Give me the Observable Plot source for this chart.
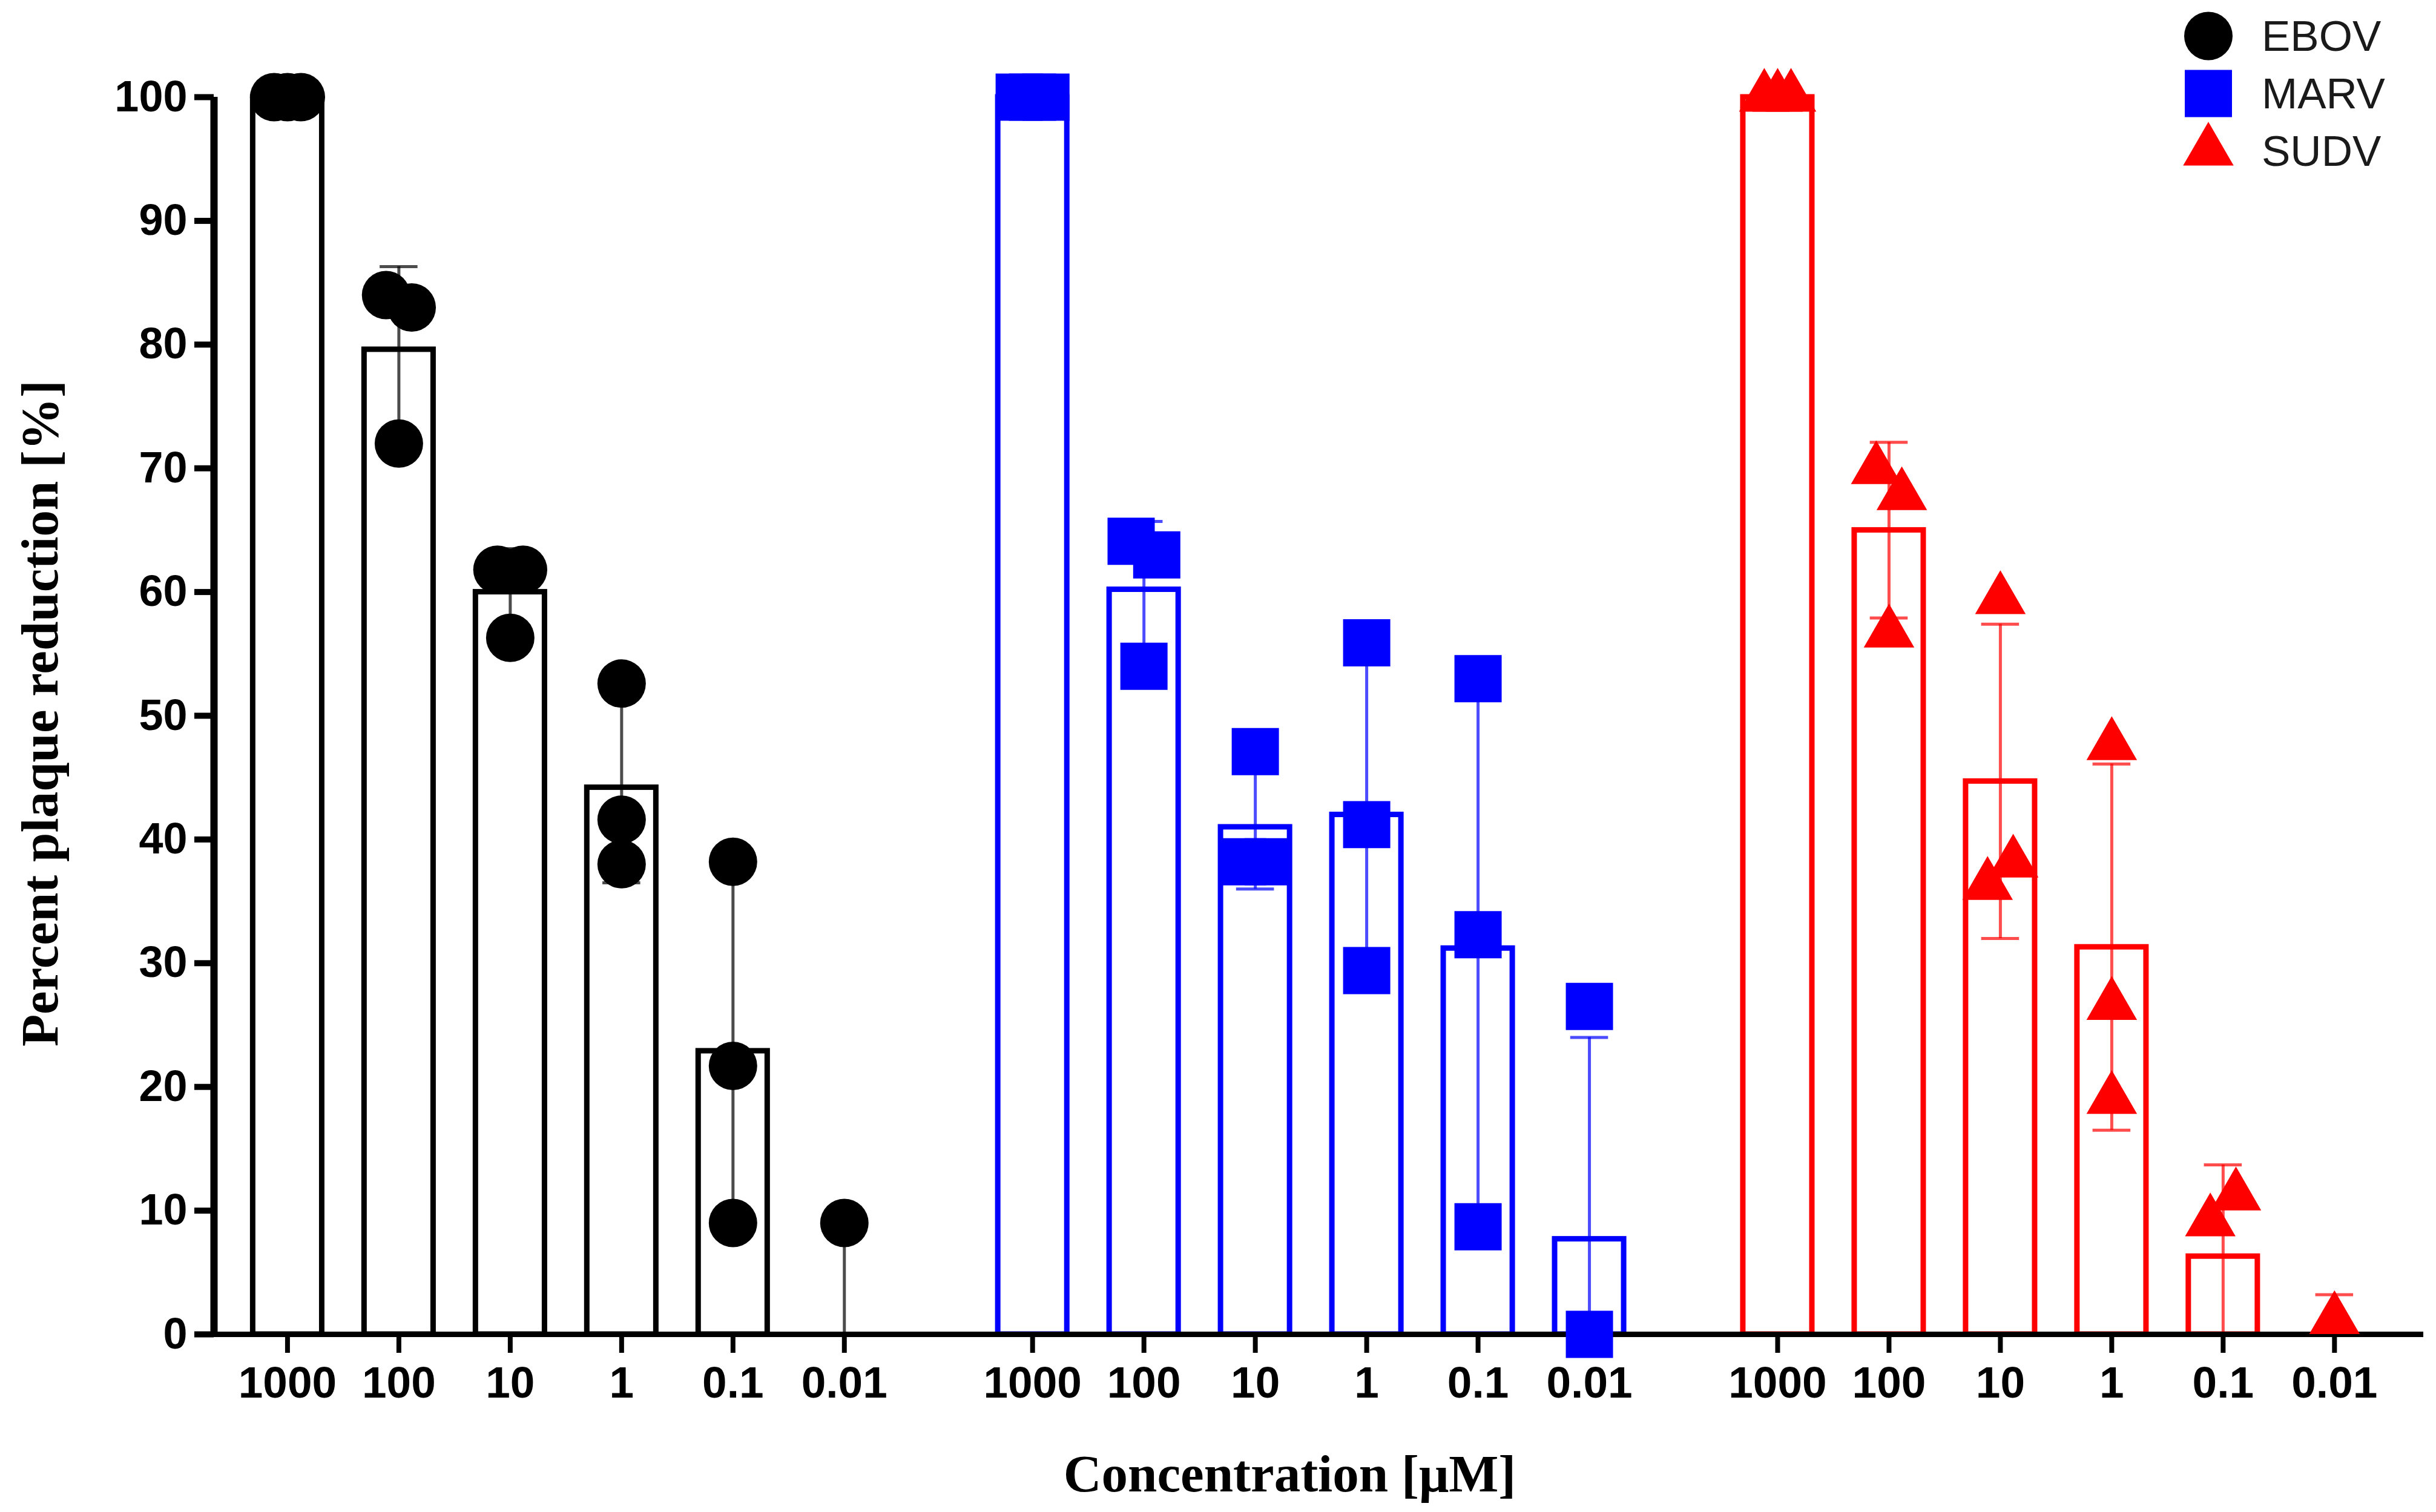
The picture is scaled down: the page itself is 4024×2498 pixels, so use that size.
<!DOCTYPE html>
<html>
<head>
<meta charset="utf-8">
<script src="https://cdn.jsdelivr.net/npm/d3@7"></script>
<script src="https://cdn.jsdelivr.net/npm/@observablehq/plot@0.6"></script>
<style>
  body { margin: 0; background: #fff; }
  #chart { position: relative; width: 4024px; height: 2498px; }
  #legend {
    position: absolute; left: 3600px; top: 12px;
    font-family: "Liberation Sans", Arial, sans-serif; font-size: 71px; color: #1a1a1a;
  }
  #legend .item { display: flex; align-items: center; height: 95px; }
  #legend svg { width: 96px; height: 95px; margin-right: 40px; overflow: visible; }
</style>
</head>
<body>
<div id="chart"></div>
<script>
const viruses = ["EBOV", "MARV", "SUDV"];
const colors = ["#000000", "#0000ff", "#ff0000"];
const symbols = ["circle", "square", "triangle"];
const concentrations = ["1000", "100", "10", "1", "0.1", "0.01"];

// bar heights (mean) and SD, one entry per concentration
const ebovMean = [100, 79.6, 60.0, 44.2, 22.9, 0];
const ebovSD   = [0, 6.7, 3.5, 7.7, 14.6, 8.8];
const marvMean = [100, 60.2, 41.0, 42.0, 31.2, 7.7];
const marvSD   = [0, 5.5, 5.0, 13.3, 22.2, 16.3];
const sudvMean = [100, 65.0, 44.7, 31.3, 6.3, 0];
const sudvSD   = [0, 7.1, 12.7, 14.8, 7.4, 3.2];

// replicate points that are visible in the figure
const ebovPoints = [[100, 100, 100], [84, 83, 72], [61.8, 61.8, 56.3], [52.6, 41.6, 38.0], [38.2, 21.7, 9.0], [9.0]];
const marvPoints = [[100, 100, 100], [64.1, 63.0, 54.0], [47.1, 38.2, 38.2], [55.9, 41.2, 29.4], [53.0, 32.3, 8.7], [26.5, 0]];
const sudvPoints = [[100, 100, 100], [69.9, 67.8, 56.7], [59.4, 36.3, 38.1], [47.6, 26.6, 19.0], [9.1, 11.2], [1.2]];

const xTitle = "Concentration [μM]";
const yTitle = "Percent plaque reduction [%]";

const GROUP_STEP = 6.69;   // slot distance between the first bars of two viruses
const BAR_HALF = 0.31;
const CAP_HALF = 0.17;
const markerR = [40, 44, 31];

const groups = [
  {mean: ebovMean, sd: ebovSD, points: ebovPoints},
  {mean: marvMean, sd: marvSD, points: marvPoints},
  {mean: sudvMean, sd: sudvSD, points: sudvPoints}
];

// spread overlapping replicates sideways, like the scatter in the original
function spread(values) {
  const clusters = [];
  values.forEach((v, j) => {
    const c = clusters.find(c => c.some(k => Math.abs(values[k] - v) < 3.5));
    if (c) c.push(j); else clusters.push([j]);
  });
  const off = values.map(() => 0);
  for (const c of clusters) {
    const step = c.length === 2 ? 0.23 : 0.12;
    c.forEach((k, n) => off[k] = (n - (c.length - 1) / 2) * step);
  }
  return off;
}

const bars = [], caps = [], dots = [];
groups.forEach((grp, g) => {
  concentrations.forEach((conc, i) => {
    const x = g * GROUP_STEP + i;
    const virus = viruses[g];
    const mean = grp.mean[i], sd = grp.sd[i];
    bars.push({virus, conc, x, mean, sd});
    if (sd > 0) {
      caps.push({virus, x, y: mean + sd});
      if (mean - sd > 0) caps.push({virus, x, y: mean - sd});
    }
    const vals = grp.points[i];
    const off = spread(vals);
    vals.forEach((v, j) => dots.push({virus, x: x + off[j], y: v}));
  });
});

const ticksX = bars.map(d => d.x);
const labelAt = new Map(bars.map(d => [d.x, d.conc]));
const xDomain = [-0.66, 2 * GROUP_STEP + concentrations.length - 1 + 0.8];

const chart = Plot.plot({
  width: 4024,
  height: 2498,
  marginLeft: 353,
  marginRight: 21,
  marginTop: 160,
  marginBottom: 294,
  style: {fontFamily: "Liberation Sans, Arial, sans-serif", background: "white", color: "black"},
  x: {type: "linear", domain: xDomain},
  y: {domain: [0, 100]},
  color: {domain: viruses, range: colors},
  symbol: {domain: viruses, range: symbols},
  marks: [
    Plot.rectY(bars.filter(d => d.mean > 0), {
      x1: d => d.x - BAR_HALF, x2: d => d.x + BAR_HALF, y1: 0, y2: "mean",
      fill: "white", stroke: "virus", strokeWidth: 9
    }),
    Plot.ruleX(bars.filter(d => d.sd > 0), {
      x: "x", y1: d => Math.max(0, d.mean - d.sd), y2: d => d.mean + d.sd,
      stroke: "virus", strokeWidth: 5, strokeOpacity: 0.7
    }),
    Plot.ruleY(caps, {
      y: "y", x1: d => d.x - CAP_HALF, x2: d => d.x + CAP_HALF,
      stroke: "virus", strokeWidth: 5, strokeOpacity: 0.7
    }),
    Plot.ruleY([0], {strokeWidth: 9}),
    Plot.ruleX([xDomain[0]], {y1: 0, y2: 100, strokeWidth: 12}),
    Plot.axisY({
      ticks: d3.range(0, 101, 10), tickSize: 32, tickPadding: 12, strokeWidth: 10,
      fontSize: 72, fontWeight: "bold", label: null
    }),
    Plot.axisX({
      ticks: ticksX, tickFormat: d => labelAt.get(d), tickSize: 31, tickPadding: 22, strokeWidth: 8,
      fontSize: 73, fontWeight: "bold", label: null
    }),
    ...viruses.map((v, g) => Plot.dot(dots.filter(d => d.virus === v), {
      x: "x", y: "y", fill: "virus", symbol: "virus", r: markerR[g]
    })),
    Plot.text([yTitle], {
      text: d => d, frameAnchor: "left", textAnchor: "middle", lineAnchor: "middle",
      rotate: -90, dx: -286, dy: -4,
      fontFamily: "Liberation Serif, serif", fontWeight: "bold", fontSize: 87
    }),
    Plot.text([xTitle], {
      text: d => d, frameAnchor: "bottom", textAnchor: "middle", lineAnchor: "middle",
      dx: -48, dy: 232,
      fontFamily: "Liberation Serif, serif", fontWeight: "bold", fontSize: 87
    })
  ]
});

const container = d3.select("#chart");
container.append(() => chart);

// legend, top right
const legend = container.append("div").attr("id", "legend");
viruses.forEach((v, g) => {
  const item = legend.append("div").attr("class", "item");
  const svg = item.append("svg");
  const shape = {circle: d3.symbolCircle, square: d3.symbolSquare, triangle: d3.symbolTriangle}[symbols[g]];
  svg.append("path")
    .attr("transform", "translate(48,47.5)")
    .attr("d", d3.symbol(shape, Math.PI * markerR[g] * markerR[g])())
    .attr("fill", colors[g]);
  item.append("span").text(v);
});
</script>
</body>
</html>
